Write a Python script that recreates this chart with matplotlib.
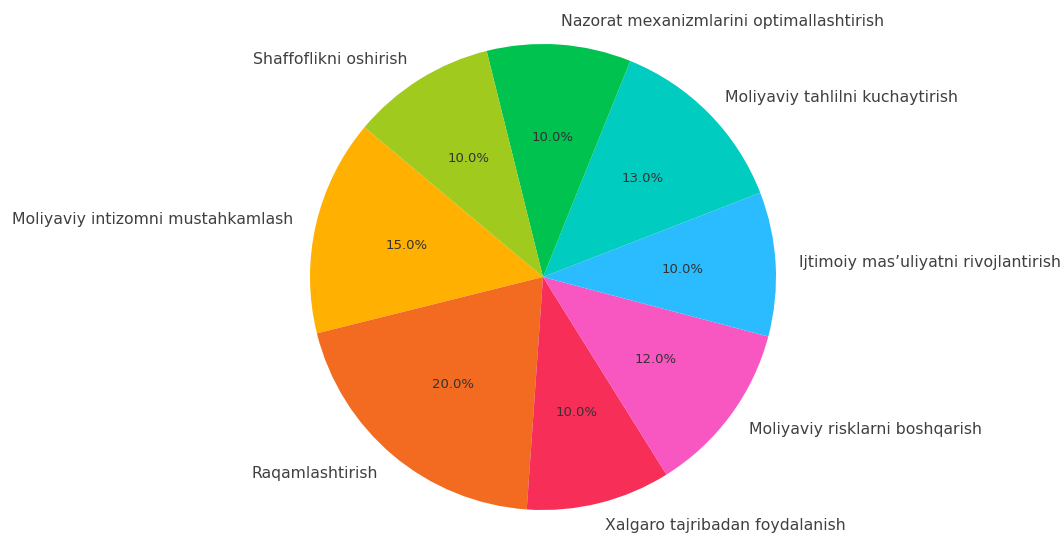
import matplotlib
matplotlib.use("Agg")
import matplotlib.pyplot as plt

labels = [
    "Moliyaviy intizomni mustahkamlash",
    "Raqamlashtirish",
    "Xalgaro tajribadan foydalanish",
    "Moliyaviy risklarni boshqarish",
    "Ijtimoiy mas\u2019uliyatni rivojlantirish",
    "Moliyaviy tahlilni kuchaytirish",
    "Nazorat mexanizmlarini optimallashtirish",
    "Shaffoflikni oshirish",
]
values = [15, 20, 10, 12, 10, 13, 10, 10]
colors = ["#FFB000", "#F26B21", "#F72F58", "#F857C1",
          "#2BBCFF", "#00CCC0", "#00C24F", "#A0CA1E"]

fig = plt.figure(figsize=(10.63, 5.33), dpi=100)
ax = fig.add_axes([0, 0, 1, 1])
wedges, texts, autotexts = ax.pie(
    values, labels=labels, colors=colors, autopct="%1.1f%%",
    startangle=140, counterclock=True, labeldistance=1.1, pctdistance=0.6,
    textprops={"fontsize": 11.3, "color": "#404040"},
)
for t in autotexts:
    t.set_fontsize(9.5)
    t.set_color("#333333")
ax.set_aspect("auto")
ax.set_xlim(-543 / 233, (1063 - 543) / 233)
ax.set_ylim(-(533 - 277) / 233, 277 / 233)
ax.axis("off")
fig.savefig("out.png", dpi=100)
